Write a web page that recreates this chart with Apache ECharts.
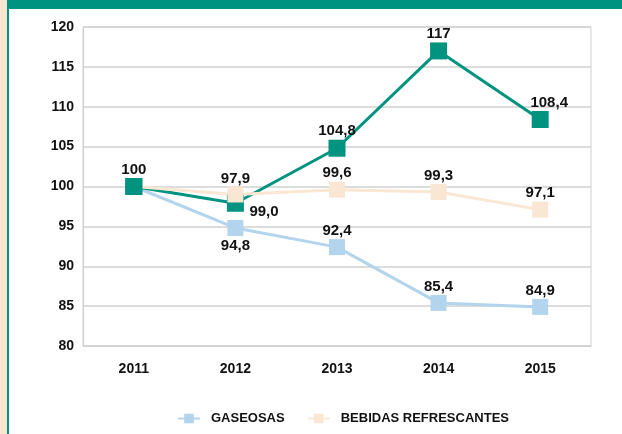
<!DOCTYPE html>
<html lang="es" style="height: 100%">
<head>
  <meta charset="utf-8">
</head>
<body style="height: 100%; margin: 0; background: #fff">
  <div id="container" style="width: 622px; height: 434px"></div>

  <script type="text/javascript" src="https://cdn.jsdelivr.net/npm/echarts@6/dist/echarts.min.js"></script>

  <script type="text/javascript">
    var years = ['2011', '2012', '2013', '2014', '2015'];
    var total = [100, 97.9, 104.8, 117, 108.4];
    var gaseosas = [100, 94.8, 92.4, 85.4, 84.9];
    var refrescantes = [100, 99.0, 99.6, 99.3, 97.1];

    var font = '"Liberation Sans", Arial, sans-serif';
    var teal = '#00937f';
    var blue = '#b2d4ec';
    var beige = '#f9e7d4';

    // total index shows whole numbers bare, the rest always one decimal
    function fmtTotal(p) {
      var v = p.value;
      return Number.isInteger(v) ? String(v) : v.toFixed(1).replace('.', ',');
    }
    function fmtOne(p) {
      return p.value.toFixed(1).replace('.', ',');
    }

    function label(fmt) {
      return {
        show: true,
        position: 'top',
        distance: 1,
        color: '#111',
        fontFamily: font,
        fontWeight: 'bold',
        fontSize: 15,
        formatter: fmt
      };
    }

    function points(values, special) {
      return values.map(function (v, i) {
        var d = { value: v };
        if (special[i]) Object.assign(d, special[i]);
        return d;
      });
    }

    var dom = document.getElementById('container');
    var myChart = echarts.init(dom, null, { renderer: 'canvas' });

    var option = {
      animation: false,
      graphic: [
        { type: 'rect', shape: { x: 0, y: 0, width: 7, height: 434 }, style: { fill: '#f9e7d4' } },
        { type: 'rect', shape: { x: 7, y: 0, width: 2, height: 434 }, style: { fill: teal } },
        { type: 'rect', shape: { x: 7, y: 0, width: 615, height: 9 }, style: { fill: teal } }
      ],
      grid: {
        left: 83, top: 27, right: 31, bottom: 88,
        show: true, borderColor: '#d0d0d0', borderWidth: 1
      },
      legend: {
        bottom: 4,
        left: 172,
        itemGap: 22,
        itemWidth: 22,
        itemHeight: 12,
        data: ['GASEOSAS', 'BEBIDAS REFRESCANTES'],
        textStyle: {
          fontFamily: font, fontWeight: 'bold', fontSize: 13, color: '#111',
          padding: [0, 0, 0, 6]
        }
      },
      xAxis: {
        type: 'category',
        data: years,
        boundaryGap: true,
        axisLine: { lineStyle: { color: '#d0d0d0' } },
        axisTick: { show: false },
        axisLabel: { margin: 16, color: '#111', fontFamily: font, fontWeight: 'bold', fontSize: 14 }
      },
      yAxis: {
        type: 'value',
        min: 80, max: 120, interval: 5,
        axisLine: { show: true, lineStyle: { color: '#d0d0d0' } },
        splitLine: { lineStyle: { color: '#d0d0d0', width: 1.5 } },
        axisLabel: { margin: 9, color: '#111', fontFamily: font, fontWeight: 'bold', fontSize: 14 }
      },
      series: [
        {
          name: 'GASEOSAS', type: 'line',
          symbol: 'rect', symbolSize: 16,
          lineStyle: { color: blue, width: 3 },
          itemStyle: { color: blue },
          label: label(fmtOne),
          data: points(gaseosas, {
            0: { label: { show: false } },
            1: { label: { position: 'bottom', distance: 2 } }
          })
        },
        {
          name: 'TOTAL', type: 'line',
          symbol: 'rect', symbolSize: 17,
          lineStyle: { color: teal, width: 3 },
          itemStyle: { color: teal },
          label: label(fmtTotal),
          data: points(total, {
            1: { label: { position: 'top', offset: [0, -7] } },
            4: { label: { offset: [9, 0] } }
          })
        },
        {
          name: 'BEBIDAS REFRESCANTES', type: 'line',
          symbol: 'rect', symbolSize: 16,
          lineStyle: { color: beige, width: 3 },
          itemStyle: { color: beige },
          label: label(fmtOne),
          data: points(refrescantes, {
            0: { symbol: 'none', label: { show: false } },
            1: { label: { position: 'right', distance: 6, offset: [0, 17] } }
          })
        },
        {
          // first point of the total index sits above everything
          name: 'TOTAL', type: 'line',
          symbol: 'rect', symbolSize: 17,
          lineStyle: { opacity: 0 },
          itemStyle: { color: teal },
          label: { show: false },
          data: total.map(function (v, i) { return i === 0 ? v : '-'; })
        }
      ]
    };

    myChart.setOption(option);

    window.addEventListener('resize', function () {
      myChart.resize();
    });
  </script>
</body>
</html>
